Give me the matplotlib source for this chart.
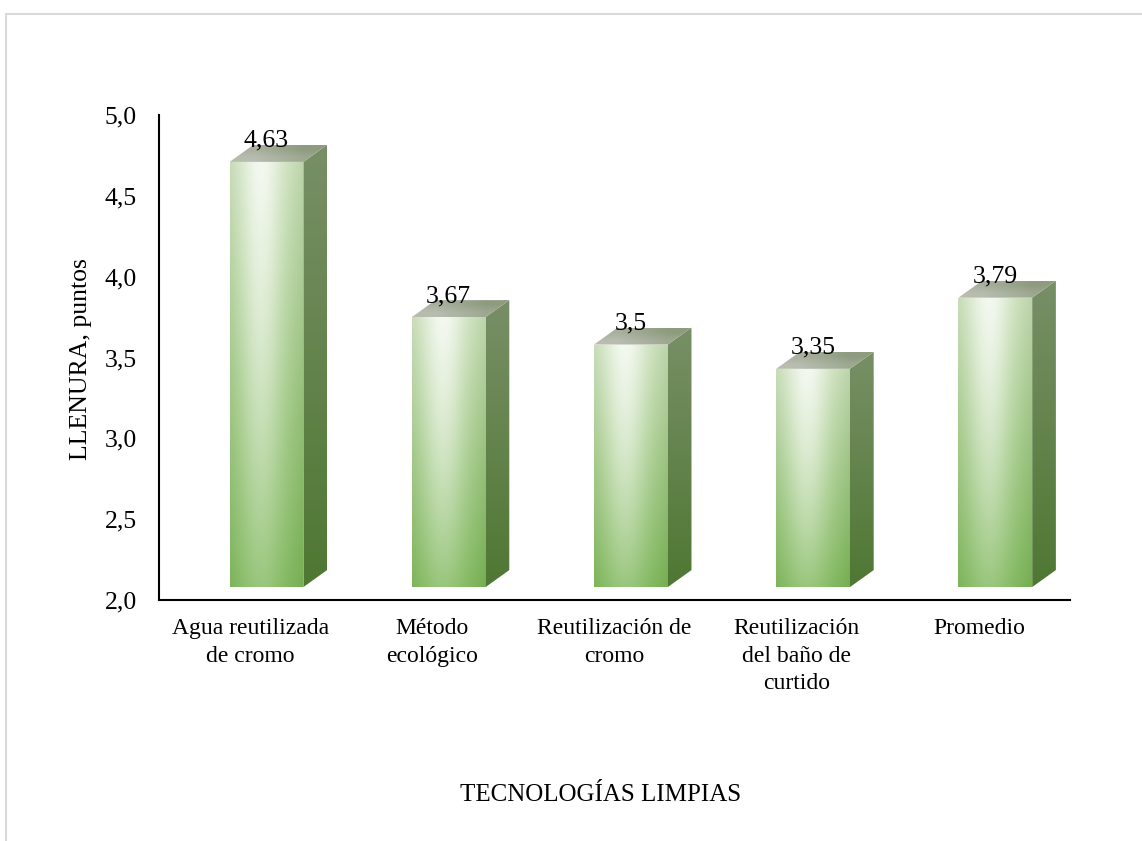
import numpy as np
import matplotlib
matplotlib.use("Agg")

import matplotlib.pyplot as plt
import matplotlib.patches as mpatches

plt.rcParams["font.family"] = ["Liberation Serif", "DejaVu Serif"]

categories = ["Agua reutilizada\nde cromo", "Método\necológico",
              "Reutilización de\ncromo", "Reutilización\ndel baño de\ncurtido",
              "Promedio"]
values = [4.63, 3.67, 3.5, 3.35, 3.79]
value_labels = ["4,63", "3,67", "3,5", "3,35", "3,79"]
yticks = [2.0, 2.5, 3.0, 3.5, 4.0, 4.5, 5.0]
ytick_labels = ["2,0", "2,5", "3,0", "3,5", "4,0", "4,5", "5,0"]

# 3D look (data units)
base = 2.0
lift = 0.08      # floor of the bars sits a bit above the axis
shift = 0.09     # front face offset to the right of the category
width = 0.405
dx, dy = 0.13, 0.105


def front_gradient(n=200):
    u = np.linspace(0, 1, n)[None, :]
    t = np.linspace(0, 1, n)[:, None]
    bottom = np.array([0.50, 0.72, 0.36])
    top = np.array([0.78, 0.87, 0.71])
    col = bottom + (top - bottom) * t[..., None]
    h = np.exp(-((u - 0.42) / 0.30) ** 2)
    mix = (h * (0.2 + 0.6 * t))[..., None]
    col = col * (1 - mix) + mix * np.array([1.0, 1.0, 1.0])
    edge = (np.abs(u - 0.45) ** 3 * 0.25)[..., None]
    return np.clip(col - edge, 0, 1)


def vgrad(c_bot, c_top, n=100):
    t = np.linspace(0, 1, n)[:, None, None]
    c_bot = np.array(c_bot)
    c_top = np.array(c_top)
    return np.repeat(c_bot + (c_top - c_bot) * t, 2, axis=1)


def shaded(ax, verts, img, z):
    verts = np.array(verts)
    poly = mpatches.Polygon(verts, closed=True, facecolor="none",
                            edgecolor="none", transform=ax.transData)
    ax.add_patch(poly)
    ext = [verts[:, 0].min(), verts[:, 0].max(),
           verts[:, 1].min(), verts[:, 1].max()]
    im = ax.imshow(img, extent=ext, origin="lower", aspect="auto",
                   interpolation="bilinear", zorder=z)
    im.set_clip_path(poly)


fig = plt.figure(figsize=(11.42, 8.41), dpi=100)
ax = fig.add_axes([159 / 1142, 1 - 600 / 841, 911 / 1142, 485 / 841])

fimg = front_gradient()
top_img = np.array([[[0.72, 0.74, 0.69], [0.62, 0.66, 0.57]],
                    [[0.66, 0.69, 0.62], [0.56, 0.61, 0.50]]])
for i, v in enumerate(values):
    x0 = i + shift - width / 2
    x1 = i + shift + width / 2
    y0 = base + lift
    y1 = v + lift
    shaded(ax, [(x0, y0), (x1, y0), (x1, y1), (x0, y1)], fimg, 3)
    shaded(ax, [(x1, y0), (x1 + dx, y0 + dy), (x1 + dx, y1 + dy), (x1, y1)],
           vgrad([0.31, 0.47, 0.20], [0.47, 0.56, 0.40]), 3)
    shaded(ax, [(x0, y1), (x1, y1), (x1 + dx, y1 + dy), (x0 + dx, y1 + dy)],
           top_img, 3)
    ax.text(i + shift, y1 + dy - 0.012, value_labels[i], ha="center",
            va="baseline", fontsize=18.5, zorder=5)

ax.set_xlim(-0.5, len(values) - 0.5)
ax.set_ylim(2.0, 5.0)
ax.set_yticks(yticks)
ax.set_yticklabels(ytick_labels)
ax.set_xticks(range(len(categories)))
ax.set_xticklabels(categories, linespacing=1.42)
ax.tick_params(axis="y", length=0, pad=16, labelsize=18.5)
ax.tick_params(axis="x", length=0, pad=13, labelsize=17)
ax.spines["top"].set_visible(False)
ax.spines["right"].set_visible(False)
ax.spines["left"].set_linewidth(1.5)
ax.spines["bottom"].set_linewidth(1.5)

fig.text(81 / 1142, 1 - 359 / 841, "LLENURA, puntos", rotation=90,
         ha="center", va="center", fontsize=18.5)
fig.text(601 / 1142, 1 - 795 / 841, "TECNOLOGÍAS LIMPIAS",
         ha="center", va="center", fontsize=18)

# light frame of the chart area
fig.add_artist(mpatches.Rectangle((6 / 1142, -0.05), 1.2, 1 - 14 / 841 + 0.05,
                                  transform=fig.transFigure, fill=False,
                                  edgecolor="#d9d9d9", linewidth=1.5))

fig.savefig("out.png", dpi=100)
plt.close(fig)
